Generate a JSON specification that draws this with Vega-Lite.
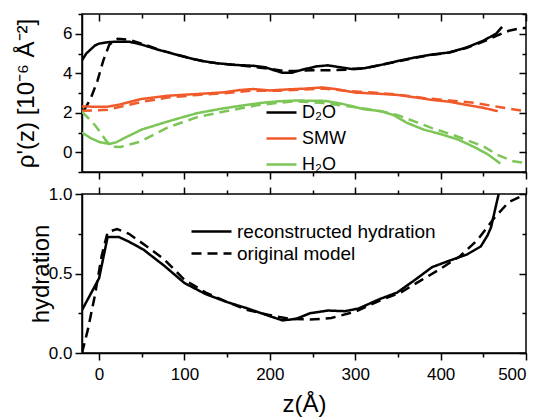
{
  "$schema": "https://vega.github.io/schema/vega-lite/v6.json",
  "autosize": {"type": "pad"},
  "padding": {"left": 13, "top": 12, "right": 5, "bottom": 5},
  "background": "white",
  "bounds": "flush",
  "config": {
    "font": "Liberation Sans",
    "view": {"stroke": "black", "strokeWidth": 1.5},
    "axis": {
      "grid": false,
      "labelFont": "Liberation Sans",
      "labelFontSize": 17,
      "labelColor": "black",
      "titleFont": "Liberation Sans",
      "titleFontSize": 24,
      "titleFontWeight": "normal",
      "titleColor": "black",
      "domainColor": "black",
      "domainWidth": 1.5,
      "tickColor": "black",
      "tickWidth": 1.5
    },
    "legend": {"labelFont": "Liberation Sans", "labelFontSize": 17, "labelColor": "black", "labelLimit": 300}
  },
  "datasets": {
    "top": [
      {"s":"D₂O","k":"fit","z":-20,"v":4.65},{"s":"D₂O","k":"fit","z":-15,"v":5.0},{"s":"D₂O","k":"fit","z":-10,"v":5.2},{"s":"D₂O","k":"fit","z":-5,"v":5.4},{"s":"D₂O","k":"fit","z":0,"v":5.5},{"s":"D₂O","k":"fit","z":10,"v":5.57},{"s":"D₂O","k":"fit","z":20,"v":5.6},{"s":"D₂O","k":"fit","z":35,"v":5.6},{"s":"D₂O","k":"fit","z":50,"v":5.45},{"s":"D₂O","k":"fit","z":70,"v":5.18},{"s":"D₂O","k":"fit","z":90,"v":4.95},{"s":"D₂O","k":"fit","z":105,"v":4.78},{"s":"D₂O","k":"fit","z":120,"v":4.62},{"s":"D₂O","k":"fit","z":140,"v":4.5},{"s":"D₂O","k":"fit","z":160,"v":4.42},{"s":"D₂O","k":"fit","z":180,"v":4.38},{"s":"D₂O","k":"fit","z":195,"v":4.3},{"s":"D₂O","k":"fit","z":205,"v":4.15},{"s":"D₂O","k":"fit","z":215,"v":4.02},{"s":"D₂O","k":"fit","z":225,"v":4.02},{"s":"D₂O","k":"fit","z":240,"v":4.2},{"s":"D₂O","k":"fit","z":255,"v":4.35},{"s":"D₂O","k":"fit","z":268,"v":4.4},{"s":"D₂O","k":"fit","z":280,"v":4.32},{"s":"D₂O","k":"fit","z":295,"v":4.22},{"s":"D₂O","k":"fit","z":310,"v":4.25},{"s":"D₂O","k":"fit","z":330,"v":4.42},{"s":"D₂O","k":"fit","z":350,"v":4.62},{"s":"D₂O","k":"fit","z":370,"v":4.8},{"s":"D₂O","k":"fit","z":390,"v":4.95},{"s":"D₂O","k":"fit","z":410,"v":5.05},{"s":"D₂O","k":"fit","z":430,"v":5.3},{"s":"D₂O","k":"fit","z":450,"v":5.65},{"s":"D₂O","k":"fit","z":465,"v":6.0},{"s":"D₂O","k":"fit","z":472,"v":6.35},
      {"s":"D₂O","k":"model","z":-18,"v":2.1},{"s":"D₂O","k":"model","z":-10,"v":2.7},{"s":"D₂O","k":"model","z":-2,"v":3.6},{"s":"D₂O","k":"model","z":5,"v":4.65},{"s":"D₂O","k":"model","z":12,"v":5.45},{"s":"D₂O","k":"model","z":22,"v":5.75},{"s":"D₂O","k":"model","z":35,"v":5.7},{"s":"D₂O","k":"model","z":50,"v":5.5},{"s":"D₂O","k":"model","z":70,"v":5.2},{"s":"D₂O","k":"model","z":90,"v":4.95},{"s":"D₂O","k":"model","z":110,"v":4.72},{"s":"D₂O","k":"model","z":130,"v":4.55},{"s":"D₂O","k":"model","z":150,"v":4.45},{"s":"D₂O","k":"model","z":175,"v":4.36},{"s":"D₂O","k":"model","z":200,"v":4.22},{"s":"D₂O","k":"model","z":215,"v":4.12},{"s":"D₂O","k":"model","z":230,"v":4.12},{"s":"D₂O","k":"model","z":250,"v":4.15},{"s":"D₂O","k":"model","z":270,"v":4.15},{"s":"D₂O","k":"model","z":290,"v":4.18},{"s":"D₂O","k":"model","z":310,"v":4.25},{"s":"D₂O","k":"model","z":330,"v":4.42},{"s":"D₂O","k":"model","z":350,"v":4.6},{"s":"D₂O","k":"model","z":370,"v":4.78},{"s":"D₂O","k":"model","z":390,"v":4.93},{"s":"D₂O","k":"model","z":410,"v":5.05},{"s":"D₂O","k":"model","z":430,"v":5.28},{"s":"D₂O","k":"model","z":450,"v":5.6},{"s":"D₂O","k":"model","z":470,"v":5.98},{"s":"D₂O","k":"model","z":480,"v":6.15},{"s":"D₂O","k":"model","z":490,"v":6.25},{"s":"D₂O","k":"model","z":500,"v":6.3},
      {"s":"SMW","k":"fit","z":-20,"v":2.32},{"s":"SMW","k":"fit","z":0,"v":2.3},{"s":"SMW","k":"fit","z":10,"v":2.31},{"s":"SMW","k":"fit","z":20,"v":2.38},{"s":"SMW","k":"fit","z":30,"v":2.48},{"s":"SMW","k":"fit","z":50,"v":2.7},{"s":"SMW","k":"fit","z":80,"v":2.86},{"s":"SMW","k":"fit","z":115,"v":2.95},{"s":"SMW","k":"fit","z":145,"v":3.03},{"s":"SMW","k":"fit","z":165,"v":3.15},{"s":"SMW","k":"fit","z":180,"v":3.2},{"s":"SMW","k":"fit","z":200,"v":3.13},{"s":"SMW","k":"fit","z":220,"v":3.18},{"s":"SMW","k":"fit","z":240,"v":3.22},{"s":"SMW","k":"fit","z":262,"v":3.28},{"s":"SMW","k":"fit","z":280,"v":3.18},{"s":"SMW","k":"fit","z":300,"v":3.02},{"s":"SMW","k":"fit","z":320,"v":2.98},{"s":"SMW","k":"fit","z":350,"v":2.9},{"s":"SMW","k":"fit","z":370,"v":2.78},{"s":"SMW","k":"fit","z":390,"v":2.65},{"s":"SMW","k":"fit","z":410,"v":2.56},{"s":"SMW","k":"fit","z":430,"v":2.4},{"s":"SMW","k":"fit","z":450,"v":2.25},{"s":"SMW","k":"fit","z":467,"v":2.08},
      {"s":"SMW","k":"model","z":-20,"v":2.1},{"s":"SMW","k":"model","z":-5,"v":2.12},{"s":"SMW","k":"model","z":10,"v":2.15},{"s":"SMW","k":"model","z":25,"v":2.3},{"s":"SMW","k":"model","z":50,"v":2.55},{"s":"SMW","k":"model","z":80,"v":2.77},{"s":"SMW","k":"model","z":115,"v":2.9},{"s":"SMW","k":"model","z":150,"v":3.0},{"s":"SMW","k":"model","z":180,"v":3.12},{"s":"SMW","k":"model","z":210,"v":3.12},{"s":"SMW","k":"model","z":240,"v":3.18},{"s":"SMW","k":"model","z":265,"v":3.22},{"s":"SMW","k":"model","z":290,"v":3.1},{"s":"SMW","k":"model","z":320,"v":3.02},{"s":"SMW","k":"model","z":350,"v":2.92},{"s":"SMW","k":"model","z":380,"v":2.75},{"s":"SMW","k":"model","z":410,"v":2.62},{"s":"SMW","k":"model","z":440,"v":2.5},{"s":"SMW","k":"model","z":470,"v":2.28},{"s":"SMW","k":"model","z":500,"v":2.07},
      {"s":"H₂O","k":"fit","z":-20,"v":1.0},{"s":"H₂O","k":"fit","z":-10,"v":0.72},{"s":"H₂O","k":"fit","z":0,"v":0.52},{"s":"H₂O","k":"fit","z":12,"v":0.42},{"s":"H₂O","k":"fit","z":20,"v":0.5},{"s":"H₂O","k":"fit","z":30,"v":0.73},{"s":"H₂O","k":"fit","z":50,"v":1.15},{"s":"H₂O","k":"fit","z":80,"v":1.55},{"s":"H₂O","k":"fit","z":100,"v":1.8},{"s":"H₂O","k":"fit","z":115,"v":1.98},{"s":"H₂O","k":"fit","z":145,"v":2.22},{"s":"H₂O","k":"fit","z":170,"v":2.38},{"s":"H₂O","k":"fit","z":190,"v":2.5},{"s":"H₂O","k":"fit","z":210,"v":2.58},{"s":"H₂O","k":"fit","z":230,"v":2.62},{"s":"H₂O","k":"fit","z":265,"v":2.6},{"s":"H₂O","k":"fit","z":285,"v":2.45},{"s":"H₂O","k":"fit","z":310,"v":2.18},{"s":"H₂O","k":"fit","z":330,"v":2.08},{"s":"H₂O","k":"fit","z":345,"v":1.88},{"s":"H₂O","k":"fit","z":360,"v":1.5},{"s":"H₂O","k":"fit","z":380,"v":1.15},{"s":"H₂O","k":"fit","z":400,"v":0.92},{"s":"H₂O","k":"fit","z":420,"v":0.65},{"s":"H₂O","k":"fit","z":440,"v":0.25},{"s":"H₂O","k":"fit","z":455,"v":-0.1},{"s":"H₂O","k":"fit","z":470,"v":-0.57},
      {"s":"H₂O","k":"model","z":-20,"v":2.05},{"s":"H₂O","k":"model","z":-12,"v":1.7},{"s":"H₂O","k":"model","z":-5,"v":1.38},{"s":"H₂O","k":"model","z":1,"v":1.04},{"s":"H₂O","k":"model","z":8,"v":0.6},{"s":"H₂O","k":"model","z":15,"v":0.28},{"s":"H₂O","k":"model","z":25,"v":0.27},{"s":"H₂O","k":"model","z":48,"v":0.53},{"s":"H₂O","k":"model","z":80,"v":1.25},{"s":"H₂O","k":"model","z":100,"v":1.55},{"s":"H₂O","k":"model","z":115,"v":1.78},{"s":"H₂O","k":"model","z":145,"v":2.05},{"s":"H₂O","k":"model","z":185,"v":2.38},{"s":"H₂O","k":"model","z":210,"v":2.5},{"s":"H₂O","k":"model","z":230,"v":2.58},{"s":"H₂O","k":"model","z":260,"v":2.5},{"s":"H₂O","k":"model","z":300,"v":2.28},{"s":"H₂O","k":"model","z":330,"v":2.08},{"s":"H₂O","k":"model","z":350,"v":1.88},{"s":"H₂O","k":"model","z":370,"v":1.55},{"s":"H₂O","k":"model","z":390,"v":1.22},{"s":"H₂O","k":"model","z":415,"v":0.87},{"s":"H₂O","k":"model","z":450,"v":0.3},{"s":"H₂O","k":"model","z":466,"v":-0.12},{"s":"H₂O","k":"model","z":485,"v":-0.46},{"s":"H₂O","k":"model","z":500,"v":-0.55}
    ],
    "bottom": [
      {"k":"reconstructed hydration","z":-20,"v":0.27},{"k":"reconstructed hydration","z":-9,"v":0.38},{"k":"reconstructed hydration","z":0,"v":0.47},{"k":"reconstructed hydration","z":10,"v":0.73},{"k":"reconstructed hydration","z":23,"v":0.73},{"k":"reconstructed hydration","z":35,"v":0.7},{"k":"reconstructed hydration","z":52,"v":0.65},{"k":"reconstructed hydration","z":76,"v":0.55},{"k":"reconstructed hydration","z":100,"v":0.44},{"k":"reconstructed hydration","z":125,"v":0.37},{"k":"reconstructed hydration","z":150,"v":0.32},{"k":"reconstructed hydration","z":174,"v":0.28},{"k":"reconstructed hydration","z":198,"v":0.235},{"k":"reconstructed hydration","z":215,"v":0.205},{"k":"reconstructed hydration","z":231,"v":0.215},{"k":"reconstructed hydration","z":247,"v":0.25},{"k":"reconstructed hydration","z":268,"v":0.267},{"k":"reconstructed hydration","z":288,"v":0.263},{"k":"reconstructed hydration","z":304,"v":0.28},{"k":"reconstructed hydration","z":329,"v":0.34},{"k":"reconstructed hydration","z":349,"v":0.38},{"k":"reconstructed hydration","z":370,"v":0.46},{"k":"reconstructed hydration","z":390,"v":0.54},{"k":"reconstructed hydration","z":410,"v":0.58},{"k":"reconstructed hydration","z":431,"v":0.62},{"k":"reconstructed hydration","z":447,"v":0.67},{"k":"reconstructed hydration","z":455,"v":0.74},{"k":"reconstructed hydration","z":459,"v":0.79},{"k":"reconstructed hydration","z":468,"v":1.0},
      {"k":"original model","z":-20,"v":0.0},{"k":"original model","z":-13,"v":0.15},{"k":"original model","z":-5,"v":0.36},{"k":"original model","z":3,"v":0.61},{"k":"original model","z":10,"v":0.76},{"k":"original model","z":21,"v":0.78},{"k":"original model","z":35,"v":0.75},{"k":"original model","z":56,"v":0.67},{"k":"original model","z":76,"v":0.59},{"k":"original model","z":100,"v":0.46},{"k":"original model","z":125,"v":0.38},{"k":"original model","z":150,"v":0.32},{"k":"original model","z":174,"v":0.27},{"k":"original model","z":198,"v":0.24},{"k":"original model","z":223,"v":0.215},{"k":"original model","z":247,"v":0.21},{"k":"original model","z":272,"v":0.22},{"k":"original model","z":300,"v":0.26},{"k":"original model","z":329,"v":0.33},{"k":"original model","z":353,"v":0.38},{"k":"original model","z":378,"v":0.46},{"k":"original model","z":400,"v":0.53},{"k":"original model","z":423,"v":0.61},{"k":"original model","z":443,"v":0.71},{"k":"original model","z":463,"v":0.85},{"k":"original model","z":480,"v":0.95},{"k":"original model","z":500,"v":1.0}
    ]
  },
  "vconcat": [
    {
      "width": 444,
      "height": 158,
      "data": {"name": "top"},
      "resolve": {"axis": {"x": "independent", "y": "independent"}},
      "layer": [
        {
          "mark": {"type": "line", "strokeWidth": 2.5, "clip": true},
          "encoding": {
            "x": {"field": "z", "type": "quantitative",
              "scale": {"domain": [-20, 500], "nice": false, "zero": false},
              "axis": {"orient": "bottom", "values": [0,50,100,150,200,250,300,350,400,450,500], "labels": false, "title": null,
                "tickSize": {"condition": {"test": "datum.value % 100 === 0", "value": 7}, "value": 4}}},
            "y": {"field": "v", "type": "quantitative",
              "scale": {"domain": [-1, 7], "nice": false, "zero": false},
              "axis": {"orient": "left", "values": [-1,0,1,2,3,4,5,6,7], "labelExpr": "datum.value % 2 === 0 ? datum.label : ''",
                "labelPadding": 3, "title": "ρ'(z) [10⁻⁶ Å⁻²]", "titlePadding": 24,
                "tickSize": {"condition": {"test": "datum.value % 2 === 0", "value": 7}, "value": 4}}},
            "color": {"field": "s", "type": "nominal",
              "scale": {"domain": ["D₂O", "SMW", "H₂O"], "range": ["#000000", "#f05a2a", "#7cc657"]},
              "legend": {"orient": "none", "legendX": 183, "legendY": 82, "title": null, "symbolType": "stroke", "symbolSize": 900, "symbolStrokeWidth": 2.5, "rowPadding": -7.5, "labelOffset": 4, "labelFontSize": 18}},
            "strokeDash": {"field": "k", "type": "nominal",
              "scale": {"domain": ["fit", "model"], "range": [[1, 0], [10, 6]]}, "legend": null},
            "detail": {"field": "k"}
          }
        },
        {
          "mark": {"type": "point", "opacity": 0},
          "encoding": {
            "x": {"field": "z", "type": "quantitative",
              "axis": {"orient": "top", "values": [0,50,100,150,200,250,300,350,400,450,500], "labels": false, "title": null, "domain": false,
                "tickSize": {"condition": {"test": "datum.value % 100 === 0", "value": -7}, "value": -4}}},
            "y": {"field": "v", "type": "quantitative",
              "axis": {"orient": "right", "values": [-1,0,1,2,3,4,5,6,7], "labels": false, "title": null, "domain": false,
                "tickSize": {"condition": {"test": "datum.value % 2 === 0", "value": -7}, "value": -4}}}
          }
        }
      ]
    },
    {
      "width": 444,
      "height": 159,
      "data": {"name": "bottom"},
      "resolve": {"axis": {"x": "independent", "y": "independent"}},
      "layer": [
        {
          "mark": {"type": "line", "strokeWidth": 2.5, "clip": true, "color": "black"},
          "encoding": {
            "x": {"field": "z", "type": "quantitative",
              "scale": {"domain": [-20, 500], "nice": false, "zero": false},
              "axis": {"orient": "bottom", "values": [0,50,100,150,200,250,300,350,400,450,500], "labelExpr": "datum.value % 100 === 0 ? datum.label : ''",
                "labelPadding": 6, "title": "z(Å)", "titlePadding": 10,
                "tickSize": {"condition": {"test": "datum.value % 100 === 0", "value": 7}, "value": 4}}},
            "y": {"field": "v", "type": "quantitative",
              "scale": {"domain": [0, 1], "nice": false, "zero": false},
              "axis": {"orient": "left", "values": [0,0.25,0.5,0.75,1], "labelExpr": "(datum.value*2) % 1 === 0 ? format(datum.value, '.1f') : ''",
                "labelPadding": 3, "title": "hydration", "titlePadding": -5,
                "tickSize": {"condition": {"test": "(datum.value*2) % 1 === 0", "value": 7}, "value": 4}}},
            "strokeDash": {"field": "k", "type": "nominal",
              "scale": {"domain": ["reconstructed hydration", "original model"], "range": [[1, 0], [10, 6]]},
              "legend": {"orient": "none", "legendX": 118, "legendY": 26, "title": null, "symbolType": "M-2,0H2", "symbolSize": 400, "symbolStrokeWidth": 2.5, "symbolStrokeColor": "black", "symbolFillColor": "transparent", "rowPadding": -1, "labelOffset": 14, "labelFontSize": 19}}
          }
        },
        {
          "mark": {"type": "point", "opacity": 0},
          "encoding": {
            "x": {"field": "z", "type": "quantitative",
              "axis": {"orient": "top", "values": [0,50,100,150,200,250,300,350,400,450,500], "labels": false, "title": null, "domain": false,
                "tickSize": {"condition": {"test": "datum.value % 100 === 0", "value": 7}, "value": 4}}},
            "y": {"field": "v", "type": "quantitative",
              "axis": {"orient": "right", "values": [0,0.25,0.5,0.75,1], "labels": false, "title": null, "domain": false,
                "tickSize": {"condition": {"test": "(datum.value*2) % 1 === 0", "value": -7}, "value": -4}}}
          }
        }
      ]
    }
  ],
  "spacing": 22,
  "resolve": {"scale": {"color": "independent", "strokeDash": "independent"}, "legend": {"color": "independent", "strokeDash": "independent"}}
}
